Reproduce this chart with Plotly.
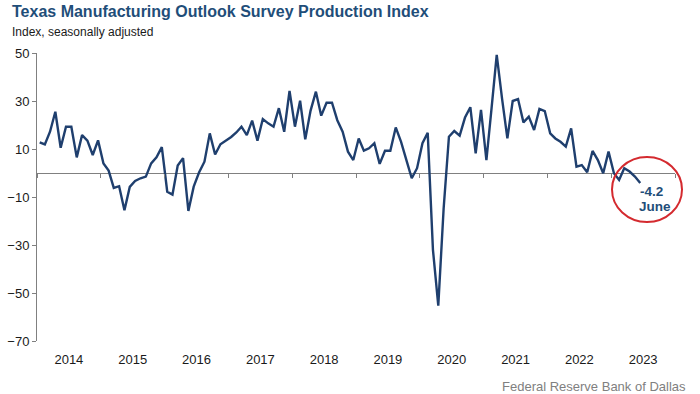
import plotly.graph_objects as go
import pandas as pd

# ---- data (monthly, Jan 2014 - Jun 2023) ----
start_month = "2014-01-01"
values = [
    # 2014
    12.8, 11.9, 17.2, 25.5, 10.5, 19.3, 19.3, 6.5, 15.8, 13.5, 7.5, 13.6,
    # 2015
    4.0, 1.0, -6.2, -5.5, -15.5, -5.8, -3.3, -2.2, -1.5, 4.0, 6.5, 10.8,
    # 2016
    -7.8, -9.0, 3.1, 6.2, -15.8, -5.7, 0.2, 4.7, 16.5, 7.7, 12.0, 13.5,
    # 2017
    15.0, 16.9, 19.3, 15.8, 21.8, 13.5, 22.5, 20.7, 19.3, 27.0, 17.2, 34.2,
    # 2018
    19.3, 30.1, 14.0, 26.0, 33.9, 23.9, 29.3, 29.3, 22.0, 17.2, 8.9, 5.4,
    # 2019
    14.4, 9.3, 10.3, 12.4, 3.8, 9.3, 9.3, 19.0, 13.0, 5.4, -2.2, 2.0,
    # 2020
    12.4, 16.8, -32.0, -55.3, -15.0, 15.1, 17.5, 15.6, 23.1, 27.4, 8.2, 26.3,
    # 2021
    5.4, 27.0, 49.2, 31.0, 14.4, 30.0, 30.8, 21.1, 23.5, 17.9, 26.7, 25.8,
    # 2022
    16.5, 14.4, 13.0, 11.0, 18.6, 2.6, 3.3, 0.3, 9.2, 5.4, -0.1, 8.9,
    # 2023
    -0.1, -2.9, 2.0, 0.6, -1.5, -4.2,
]
months = pd.date_range(start_month, periods=len(values), freq="MS")
y_ticks = [50, 30, 10, -10, -30, -50, -70]
x_range = ["2014-01-01", "2024-01-01"]

title_text = "Texas Manufacturing Outlook Survey Production Index"
subtitle_text = "Index, seasonally adjusted"
source_text = "Federal Reserve Bank of Dallas"
last_label = "-4.2"
last_month_label = "June"

NAVY = "#1F3F6E"
TITLE = "#1F4E79"
GRAY = "#808080"
FONT = "Liberation Sans, Arial, sans-serif"

# plot-area pixel geometry used to place the free-floating decorations
L, R, T, B = 37, 675, 53, 341
W, H = R - L, B - T
def px(xp):
    return (xp - L) / W
def py(yp):
    return (B - yp) / H

fig = go.Figure()
fig.add_trace(go.Scatter(
    x=months, y=values, mode="lines",
    xperiod="M1", xperiodalignment="middle",
    line=dict(color=NAVY, width=2.4),
    showlegend=False, hoverinfo="x+y",
))
# dummy trace so the tick-mark axis on the zero line is drawn
fig.add_trace(go.Scatter(x=[months[0]], y=[None], xaxis="x2", yaxis="y",
                         mode="lines", showlegend=False, hoverinfo="skip"))

fig.update_layout(
    width=700, height=394,
    margin=dict(l=L, r=700 - R, t=T, b=394 - B),
    paper_bgcolor="white", plot_bgcolor="white",
    font=dict(family=FONT, size=13, color="#1a1a1a"),
    xaxis=dict(
        type="date", range=x_range, dtick="M12", tick0="2014-01-01",
        ticklabelmode="period", tickformat="%Y",
        ticks="outside", ticklen=6, tickcolor="rgba(0,0,0,0)",
        showline=False, showgrid=False, zeroline=False,
        tickfont=dict(size=13, color="#1a1a1a"), automargin=False,
    ),
    xaxis2=dict(
        type="date", overlaying="x", matches="x", anchor="free",
        position=70 / 120, dtick="M12", tick0="2014-01-01",
        ticks="outside", ticklen=4, tickcolor=GRAY, tickwidth=1,
        showticklabels=False, showline=False, showgrid=False,
        zeroline=False, automargin=False,
    ),
    yaxis=dict(
        range=[-70, 50], tickvals=y_ticks,
        ticks="outside", ticklen=4, tickcolor=GRAY,
        showline=True, linecolor=GRAY, linewidth=1,
        showgrid=False, zeroline=True, zerolinecolor=GRAY, zerolinewidth=1,
        tickfont=dict(size=13, color="#1a1a1a"), automargin=False,
    ),
)

fig.add_annotation(text="<b>" + title_text + "</b>", xref="paper", yref="paper",
                   x=px(10), y=py(11), xanchor="left", yanchor="middle",
                   showarrow=False, font=dict(family=FONT, size=16, color=TITLE))
fig.add_annotation(text=subtitle_text, xref="paper", yref="paper",
                   x=px(10), y=py(31.5), xanchor="left", yanchor="middle",
                   showarrow=False, font=dict(family=FONT, size=12, color="#1a1a1a"))
fig.add_annotation(text=source_text, xref="paper", yref="paper",
                   x=px(688), y=py(386), xanchor="right", yanchor="middle",
                   showarrow=False, font=dict(family=FONT, size=13, color=GRAY))
fig.add_annotation(text="<b>" + last_label + "</b>", xref="paper", yref="paper",
                   x=px(651), y=py(191), xanchor="center", yanchor="middle",
                   showarrow=False, font=dict(family=FONT, size=13.5, color=TITLE))
fig.add_annotation(text="<b>" + last_month_label + "</b>", xref="paper", yref="paper",
                   x=px(655), y=py(206), xanchor="center", yanchor="middle",
                   showarrow=False, font=dict(family=FONT, size=13.5, color=TITLE))
fig.add_shape(type="circle", xref="paper", yref="paper",
              x0=px(612), x1=px(682), y0=py(222), y1=py(157),
              line=dict(color="#D42A2F", width=2), fillcolor="rgba(0,0,0,0)")

fig.write_html("out.html",
               config={"displayModeBar": False},
               post_script="document.body.style.margin='0px';"
                           "document.body.style.overflow='hidden';")
